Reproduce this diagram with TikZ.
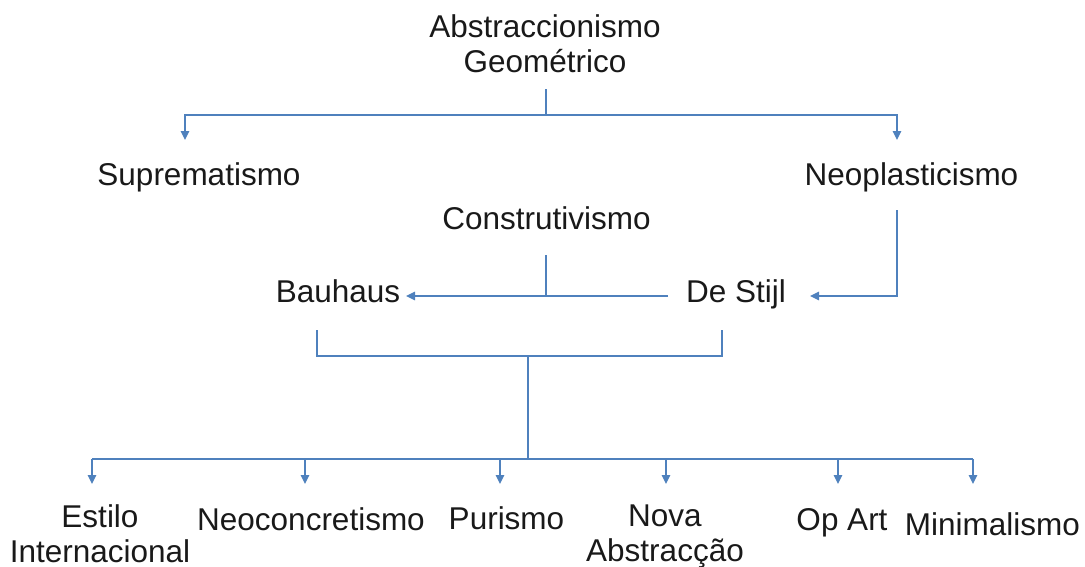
\documentclass[tikz,border=0pt]{standalone}
\usepackage{fontspec}
\setmainfont{Liberation Sans}
\usetikzlibrary{arrows.meta}
\definecolor{lineblue}{RGB}{79,129,189}
\begin{document}
\begin{tikzpicture}[x=1pt,y=-1pt,
  lbl/.style={font=\fontsize{31.5}{35}\selectfont, inner sep=0pt, align=center, anchor=base, text=black!90},
  conn/.style={draw=lineblue, line width=1.4pt},
  arr/.style={conn, -{Triangle[length=9pt,width=8.5pt]}}]
\useasboundingbox (0,0) rectangle (1085,566);
% labels (multi-line nodes: base = last line baseline)
\node[lbl] (abs) at (545,72) {Abstraccionismo\\Geométrico};
\node[lbl] (supr) at (199,185) {Suprematismo};
\node[lbl] (neop) at (911.5,185) {Neoplasticismo};
\node[lbl] (cons) at (546.5,229) {Construtivismo};
\node[lbl] (bau) at (338,302) {Bauhaus};
\node[lbl] (des) at (736,302) {De Stijl};
\node[lbl] (est) at (100,562) {Estilo\\Internacional};
\node[lbl] (neoc) at (311,530) {Neoconcretismo};
\node[lbl] (pur) at (506.5,529) {Purismo};
\node[lbl] (nova) at (665,561) {Nova\\Abstracção};
\node[lbl] (op) at (842,530) {Op Art};
\node[lbl] (mini) at (992.5,535) {Minimalismo};
% connector points
\coordinate (t0) at (546,89);
\coordinate (t1) at (546,115);
\coordinate (a1) at (185,140);
\coordinate (a2) at (897,140);
\coordinate (c0) at (546,255);
\coordinate (c1) at (546,296);
\coordinate (c2) at (668,296);
\coordinate (bauin) at (406,296);
\coordinate (n0) at (897,210);
\coordinate (desin) at (810,296);
\coordinate (b0) at (317,330);
\coordinate (d0) at (722,330);
\coordinate (m0) at (528,356);
\coordinate (m1) at (528,459);
\coordinate (h0) at (92,459);
\coordinate (h1) at (973,459);
% top
\draw[conn] (t0) -- (t1);
\draw[arr] (t1) -| (a1);
\draw[arr] (t1) -| (a2);
% middle
\draw[conn] (c0) -- (c1);
\draw[conn] (c2) -- (c1);
\draw[arr] (c1) -- (bauin);
\draw[arr] (n0) |- (desin);
% bracket
\draw[conn] (b0) |- (m0) -| (d0);
\draw[conn] (m0) -- (m1);
% bottom
\draw[conn] (h0) -- (h1);
\foreach \x/\n in {92/est,305/neoc,500/pur,666/nova,838/op,973/mini}{
  \coordinate (top\n) at (\x,459);
  \coordinate (tip\n) at (\x,484);
  \draw[arr] (top\n) -- (tip\n);
}
\end{tikzpicture}
\end{document}
